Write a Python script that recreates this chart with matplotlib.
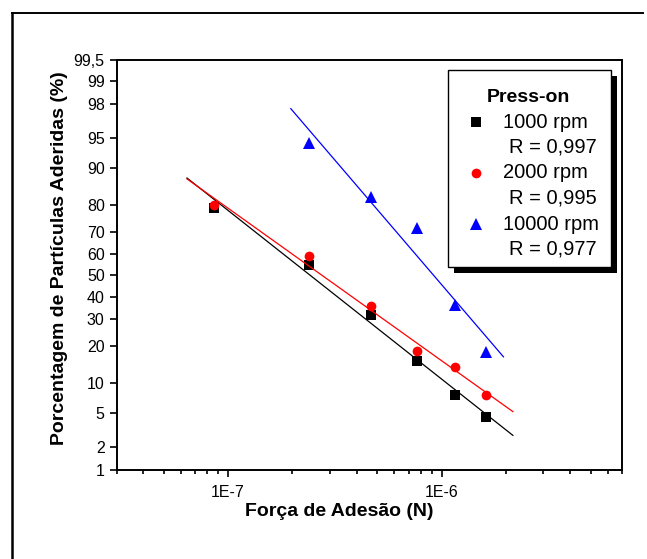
"""Probability plot of adhered particles vs adhesion force (press-on)."""

from statistics import NormalDist

import numpy as np
import matplotlib

matplotlib.use("Agg")
import matplotlib.pyplot as plt
from matplotlib.lines import Line2D
from matplotlib.patches import Rectangle
from matplotlib.ticker import FixedLocator, LogLocator, NullFormatter


FORCE = [8.6e-8, 2.38e-7, 4.68e-7, 7.69e-7, 1.155e-6, 1.61e-6]
PCT_1000 = [79.0, 54.9, 31.8, 15.4, 7.7, 4.55]
PCT_2000 = [80.0, 59.2, 35.9, 18.3, 13.6, 7.6]
FORCE_10000 = [2.38e-7, 4.68e-7, 7.69e-7, 1.155e-6, 1.61e-6]
PCT_10000 = [94.3, 82.7, 71.5, 36.2, 18.1]

SERIES = [
    ("1000 rpm", "R = 0,997", FORCE, PCT_1000, "black", "s"),
    ("2000 rpm", "R = 0,995", FORCE, PCT_2000, "red", "o"),
    ("10000 rpm", "R = 0,977", FORCE_10000, PCT_10000, "blue", "^"),
]

Y_TICKS = [1, 2, 5, 10, 20, 30, 40, 50, 60, 70, 80, 90, 95, 98, 99, 99.5]
Y_LABELS = ["1", "2", "5", "10", "20", "30", "40", "50", "60", "70", "80",
            "90", "95", "98", "99", "99,5"]
X_TICKS = [1e-7, 1e-6]
X_LABELS = ["1E-7", "1E-6"]

W, H = 647, 559
_nd = NormalDist()


def prob_fwd(p):
    p = np.asarray(p, dtype=float) / 100.0
    out = np.full(p.shape, np.nan)
    ok = np.isfinite(p)
    q = np.clip(p[ok], 1e-9, 1 - 1e-9)
    out[ok] = [_nd.inv_cdf(v) for v in q]
    return out


def prob_inv(z):
    z = np.asarray(z, dtype=float)
    out = np.full(z.shape, np.nan)
    ok = np.isfinite(z)
    out[ok] = [100.0 * _nd.cdf(v) for v in z[ok]]
    return out


def fx(px):
    return px / W


def fy(py):
    return 1 - py / H


def main() -> None:
    plt.rcParams["font.family"] = ["Liberation Sans", "DejaVu Sans"]

    fig = plt.figure(figsize=(W / 100, H / 100), dpi=100)
    ax = fig.add_axes([fx(116.5), fy(470), fx(622) - fx(116.5), fy(60) - fy(470)])

    ax.set_xscale("log")
    ax.set_yscale("function", functions=(prob_fwd, prob_inv))

    for name, r_text, xs, ys, color, marker in SERIES:
        lx = np.log10(xs)
        z = prob_fwd(ys)
        coef = np.polyfit(lx, z, 1)
        span = lx.max() - lx.min()
        lfit = np.linspace(lx.min() - 0.1 * span, lx.max() + 0.1 * span, 50)
        ax.plot(10 ** lfit, prob_inv(np.polyval(coef, lfit)), color=color, lw=0.9)
        size = 8.5 if marker == "^" else 7
        ax.plot(xs, ys, linestyle="none", marker=marker, color=color,
                markersize=size, markeredgewidth=0)

    ax.set_xlim(3e-8, 7e-6)
    ax.set_ylim(1, 99.5)

    ax.yaxis.set_major_locator(FixedLocator(Y_TICKS))
    ax.set_yticklabels(Y_LABELS)
    ax.yaxis.set_minor_locator(FixedLocator([]))
    ax.set_xticks(X_TICKS)
    ax.set_xticklabels(X_LABELS)
    ax.xaxis.set_minor_locator(LogLocator(base=10, subs=np.arange(2, 10)))
    ax.xaxis.set_minor_formatter(NullFormatter())

    ax.tick_params(axis="both", which="major", direction="out", length=5,
                   width=1.2, labelsize=11.5)
    ax.tick_params(axis="y", pad=3.5)
    ax.tick_params(axis="x", pad=5.5)
    ax.tick_params(axis="x", which="minor", direction="out", length=3, width=1.2)
    ax.tick_params(top=False, right=False, which="both")
    for sp in ax.spines.values():
        sp.set_linewidth(1.4)

    ax.set_xlabel("Força de Adesão (N)", fontsize=14, fontweight="bold", va="center")
    ax.set_ylabel("Porcentagem de Partículas Aderidas (%)", fontsize=14,
                  fontweight="bold", va="center")
    ax.xaxis.set_label_coords((339 - 116.5) / 505.5, (470 - 511) / 410)
    ax.yaxis.set_label_coords((60 - 116.5) / 505.5, (470 - 258) / 410)

    # legend box with shadow
    fig.add_artist(Rectangle((fx(454), fy(273)), fx(163), fy(0) - fy(197),
                             transform=fig.transFigure, facecolor="black",
                             edgecolor="black", lw=0))
    fig.add_artist(Rectangle((fx(448), fy(267)), fx(163), fy(0) - fy(197),
                             transform=fig.transFigure, facecolor="white",
                             edgecolor="black", lw=1.0))
    fig.text(fx(528), fy(97), "Press-on", fontsize=14, fontweight="bold",
             ha="center", va="center")
    rows = [122, 173, 224]
    for (name, r_text, xs, ys, color, marker), py in zip(SERIES, rows):
        size = 8.5 if marker == "^" else 7
        fig.add_artist(Line2D([fx(476)], [fy(py)], transform=fig.transFigure,
                              marker=marker, color=color, markersize=size,
                              markeredgewidth=0, linestyle="none"))
        fig.text(fx(503), fy(py), name, fontsize=14.5, ha="left", va="center")
        fig.text(fx(597), fy(py + 25), r_text, fontsize=14.5, ha="right",
                 va="center")

    # page frame
    fig.add_artist(Line2D([fx(12), fx(643)], [fy(13), fy(13)],
                          transform=fig.transFigure, color="black", lw=1.4))
    fig.add_artist(Line2D([fx(12), fx(12)], [fy(13), 0],
                          transform=fig.transFigure, color="black", lw=1.8))

    fig.savefig("out.png", dpi=100)
    plt.close(fig)


if __name__ == "__main__":
    main()
